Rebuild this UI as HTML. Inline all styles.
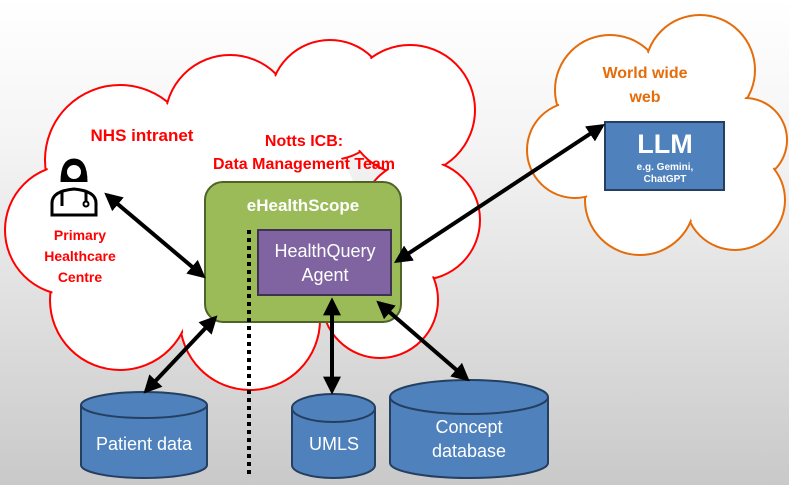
<!DOCTYPE html>
<html><head><meta charset="utf-8"><style>
html,body{margin:0;padding:0;width:789px;height:485px;overflow:hidden}
svg{display:block;font-family:"Liberation Sans",sans-serif}
</style></head><body>
<svg width="789" height="485" viewBox="0 0 789 485">
<defs>
<linearGradient id="bg" x1="0" y1="0" x2="0" y2="1">
<stop offset="0" stop-color="#ffffff"/><stop offset="0.3" stop-color="#f4f4f4"/><stop offset="1" stop-color="#c9c9c9"/></linearGradient>
<marker id="ah" viewBox="0 0 10 10" refX="8" refY="5" markerWidth="4.5" markerHeight="4.5" orient="auto-start-reverse"><path d="M0,0 L10,5 L0,10 z" fill="#000"/></marker>
</defs>
<rect width="789" height="485" fill="url(#bg)"/>
<!-- red cloud -->
<g fill="#fff" stroke="#f00" stroke-width="2">
<circle cx="120" cy="160" r="75"/><circle cx="230" cy="120" r="65"/><circle cx="330" cy="100" r="60"/>
<circle cx="410" cy="110" r="65"/><circle cx="420" cy="220" r="60"/><circle cx="380" cy="300" r="58"/>
<circle cx="250" cy="320" r="70"/><circle cx="120" cy="300" r="70"/><circle cx="70" cy="230" r="65"/>
</g>
<g fill="#fff">
<circle cx="120" cy="160" r="73"/><circle cx="230" cy="120" r="63"/><circle cx="330" cy="100" r="58"/>
<circle cx="410" cy="110" r="63"/><circle cx="420" cy="220" r="58"/><circle cx="380" cy="300" r="56"/>
<circle cx="250" cy="320" r="68"/><circle cx="120" cy="300" r="68"/><circle cx="70" cy="230" r="63"/>
<circle cx="250" cy="220" r="110"/><circle cx="125" cy="235" r="65"/>
</g>
<!-- orange cloud -->
<g fill="#fff" stroke="#e46c0a" stroke-width="2">
<circle cx="610" cy="90" r="55"/><circle cx="700" cy="70" r="55"/><circle cx="745" cy="140" r="42"/>
<circle cx="735" cy="200" r="50"/><circle cx="640" cy="200" r="55"/><circle cx="575" cy="150" r="48"/>
</g>
<g fill="#fff">
<circle cx="610" cy="90" r="53"/><circle cx="700" cy="70" r="53"/><circle cx="745" cy="140" r="40"/>
<circle cx="735" cy="200" r="48"/><circle cx="640" cy="200" r="53"/><circle cx="575" cy="150" r="46"/>
<circle cx="660" cy="145" r="60"/>
</g>
<!-- texts -->
<g font-weight="bold" fill="#f00" text-anchor="middle">
<text x="142" y="141" font-size="17">NHS intranet</text>
<text x="304" y="146" font-size="16">Notts ICB:</text>
<text x="304" y="169" font-size="16">Data Management Team</text>
<text x="80" y="240" font-size="14">Primary</text>
<text x="80" y="261" font-size="14">Healthcare</text>
<text x="80" y="282" font-size="14">Centre</text>
</g>
<g font-weight="bold" fill="#e46c0a" text-anchor="middle" font-size="16">
<text x="645" y="78">World wide</text><text x="645" y="102">web</text>
</g>
<!-- doctor icon -->
<g fill="none" stroke="#000" stroke-width="3">
<path d="M62,182 q0,-22 12,-22 q12,0 12,22" fill="#000"/>
<circle cx="74" cy="172" r="8" fill="#fff" stroke-width="2"/>
<path d="M52,215 v-12 q0,-12 22,-14 q22,2 22,14 v12 z"/>
<path d="M62,192 v14 M86,192 v10"/>
<circle cx="86" cy="204" r="2.5" stroke-width="2"/>
</g>
<!-- green box -->
<rect x="205" y="182" width="196" height="140" rx="18" fill="#9bbb59" stroke="#4f6228" stroke-width="2"/>
<text x="303" y="211" font-size="17" font-weight="bold" fill="#fff" text-anchor="middle">eHealthScope</text>
<rect x="258" y="230" width="133" height="65" fill="#8064a2" stroke="#3f3151" stroke-width="2"/>
<text x="325" y="257" font-size="18" fill="#fff" text-anchor="middle">HealthQuery</text>
<text x="325" y="281" font-size="18" fill="#fff" text-anchor="middle">Agent</text>
<!-- LLM -->
<rect x="605" y="122" width="119" height="68" fill="#4f81bd" stroke="#243f60" stroke-width="2"/>
<text x="665" y="153" font-size="27" font-weight="bold" fill="#fff" text-anchor="middle">LLM</text>
<text x="665" y="170" font-size="10" font-weight="bold" fill="#fff" text-anchor="middle">e.g. Gemini,</text>
<text x="665" y="182" font-size="10" font-weight="bold" fill="#fff" text-anchor="middle">ChatGPT</text>
<!-- dotted line -->
<line x1="249" y1="230" x2="249" y2="476" stroke="#000" stroke-width="4" stroke-dasharray="4 4"/>
<!-- cylinders -->
<g fill="#4f81bd" stroke="#243f60" stroke-width="2">
<path d="M81,405 v60 a63,13 0 0 0 126,0 v-60"/><ellipse cx="144" cy="405" rx="63" ry="13"/>
<path d="M292,408 v57 a41.5,13 0 0 0 83,0 v-57"/><ellipse cx="333.5" cy="408" rx="41.5" ry="14"/>
<path d="M390,397 v66 a79,15 0 0 0 158,0 v-66"/><ellipse cx="469" cy="397" rx="79" ry="17"/>
</g>
<g fill="#fff" font-size="18" text-anchor="middle">
<text x="144" y="450">Patient data</text>
<text x="334" y="450">UMLS</text>
<text x="469" y="433">Concept</text><text x="469" y="457">database</text>
</g>
<!-- arrows -->
<g stroke="#000" stroke-width="4" marker-start="url(#ah)" marker-end="url(#ah)">
<line x1="107" y1="195" x2="203" y2="276"/>
<line x1="215" y1="318" x2="146" y2="391"/>
<line x1="332" y1="301" x2="332" y2="391"/>
<line x1="379" y1="303" x2="467" y2="379"/>
<line x1="397" y1="261" x2="602" y2="126"/>
</g>
</svg>
</body></html>
